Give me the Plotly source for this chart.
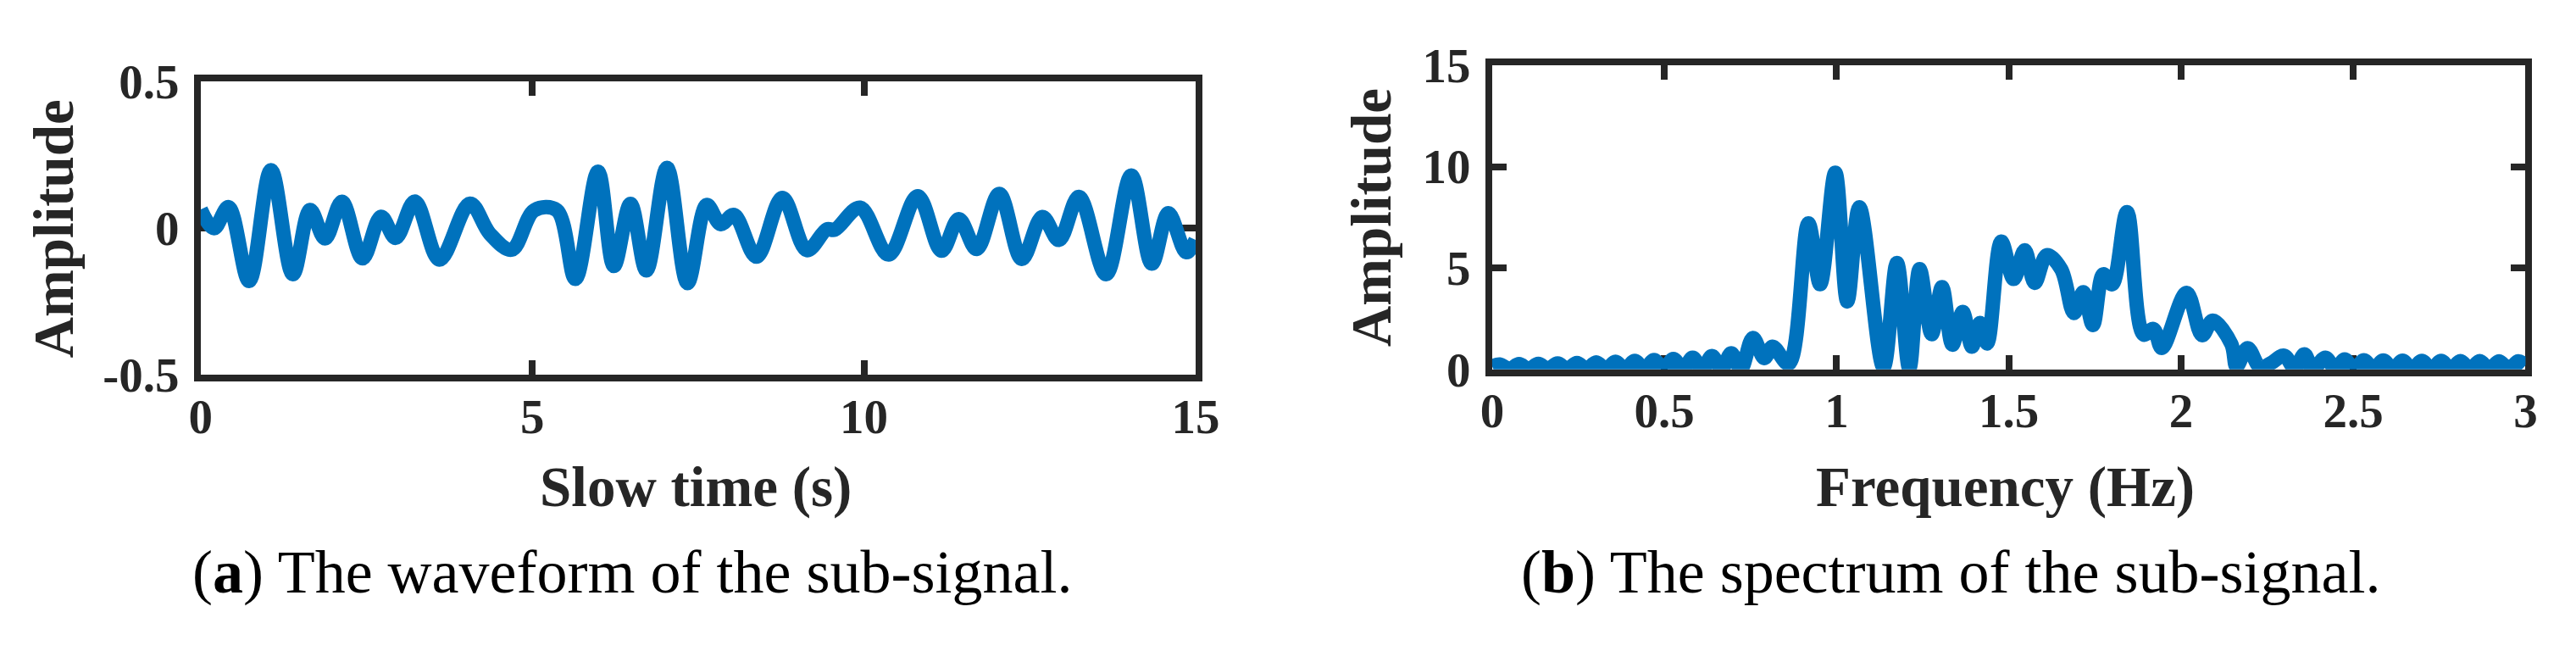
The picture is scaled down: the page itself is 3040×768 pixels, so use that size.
import plotly.graph_objects as go

# (a) waveform of the sub-signal
t_s = [0.0, 0.2, 0.42, 0.73, 1.06, 1.39, 1.65, 1.875, 2.13, 2.44,
       2.72, 2.94, 3.23, 3.6, 4.06, 4.36, 4.69, 5.03, 5.37, 5.65,
       5.99, 6.23, 6.48, 6.72, 7.03, 7.34, 7.63, 7.84, 8.04, 8.38,
       8.77, 9.14, 9.44, 9.56, 9.94, 10.37, 10.81, 11.17, 11.43, 11.70,
       12.04, 12.38, 12.69, 12.94, 13.24, 13.65, 14.03, 14.34, 14.59, 14.86,
       15.0]
amp_wave = [0.064, 0.0, 0.072, -0.18, 0.198, -0.157, 0.062, -0.035, 0.09, -0.103,
            0.039, -0.033, 0.091, -0.107, 0.084, -0.019, -0.073, 0.061, 0.061, -0.173,
            0.193, -0.129, 0.083, -0.144, 0.206, -0.187, 0.079, 0.014, 0.045, -0.097,
            0.103, -0.075, -0.004, -0.005, 0.07, -0.09, 0.109, -0.077, 0.031, -0.071,
            0.117, -0.105, 0.038, -0.04, 0.107, -0.157, 0.18, -0.121, 0.051, -0.082,
            -0.04]

# (b) spectrum of the sub-signal
freq_hz = [0.0, 0.022, 0.05, 0.078, 0.106, 0.134, 0.162, 0.19, 0.218, 0.246,
           0.274, 0.302, 0.33, 0.358, 0.386, 0.414, 0.442, 0.47, 0.498, 0.526,
           0.554, 0.582, 0.61, 0.638, 0.666, 0.694, 0.722, 0.757, 0.79, 0.814,
           0.861, 0.918, 0.952, 0.996, 1.031, 1.066, 1.136, 1.175, 1.211, 1.241,
           1.276, 1.306, 1.336, 1.366, 1.393, 1.416, 1.437, 1.478, 1.514, 1.546,
           1.575, 1.61, 1.652, 1.689, 1.716, 1.744, 1.774, 1.80, 1.843, 1.891,
           1.92, 1.944, 2.016, 2.061, 2.092, 2.146, 2.161, 2.193, 2.23, 2.26,
           2.299, 2.33, 2.358, 2.383, 2.419, 2.448, 2.475, 2.503, 2.531, 2.559,
           2.587, 2.615, 2.643, 2.671, 2.699, 2.727, 2.755, 2.783, 2.811, 2.839,
           2.867, 2.895, 2.923, 2.951, 2.979, 3.0]
amp_spec = [0.15, 0.24, 0.02, 0.26, 0.02, 0.28, 0.02, 0.30, 0.02, 0.32,
            0.02, 0.35, 0.02, 0.38, 0.02, 0.42, 0.02, 0.46, 0.02, 0.52,
            0.02, 0.58, 0.02, 0.66, 0.02, 0.80, 0.02, 1.55, 0.56, 1.12,
            0.28, 7.2, 4.2, 9.7, 3.35, 8.0, 0.1, 5.25, 0.05, 4.95,
            1.74, 4.06, 1.22, 2.83, 1.12, 2.29, 1.28, 6.3, 4.46, 5.88,
            4.27, 5.63, 4.94, 2.78, 3.81, 2.19, 4.69, 4.2, 7.76, 1.72,
            1.99, 1.06, 3.78, 1.69, 2.41, 1.25, 0.15, 1.05, 0.1, 0.3,
            0.68, 0.05, 0.74, 0.02, 0.58, 0.02, 0.49, 0.02, 0.45, 0.02,
            0.44, 0.02, 0.43, 0.02, 0.42, 0.02, 0.42, 0.02, 0.41, 0.02,
            0.41, 0.02, 0.40, 0.02, 0.40, 0.2]

wave_xticks = [0, 5, 10, 15]
wave_yticks = [-0.5, 0, 0.5]
wave_ylabels = ["-0.5", "0", "0.5"]
spec_xticks = [0, 0.5, 1, 1.5, 2, 2.5, 3]
spec_xlabels = ["0", "0.5", "1", "1.5", "2", "2.5", "3"]
spec_yticks = [0, 5, 10, 15]

W, H = 3040, 768
AX = "#262626"
BLUE = "#0072BD"
SERIF = "Liberation Serif"


def px_x(p):
    return p / W


def px_y(p):
    return 1 - p / H


fig = go.Figure()
fig.add_trace(go.Scatter(x=t_s, y=amp_wave, mode="lines", xaxis="x", yaxis="y",
                         line=dict(color=BLUE, width=17, shape="spline"),
                         cliponaxis=False, showlegend=False))
fig.add_trace(go.Scatter(x=freq_hz, y=amp_spec, mode="lines", xaxis="x2", yaxis="y2",
                         line=dict(color=BLUE, width=17, shape="spline"),
                         cliponaxis=False, showlegend=False))

axis_style = dict(showline=True, linewidth=8, linecolor=AX, mirror="ticks",
                  ticks="inside", ticklen=17, tickwidth=8, tickcolor=AX,
                  showgrid=False, zeroline=False, layer="below traces",
                  tickfont=dict(family=SERIF, size=57, color=AX, weight="bold"))

# plot areas sit 4 px inside the box lines (plotly draws lines outside)
fig.update_layout(
    width=W, height=H,
    margin=dict(l=0, r=0, t=0, b=0),
    paper_bgcolor="white", plot_bgcolor="white",
    xaxis=dict(domain=[px_x(226), px_x(1417)], range=[0, 15], anchor="y",
               tickvals=wave_xticks, ticklabelstandoff=-8, **axis_style),
    yaxis=dict(domain=[px_y(448), px_y(71)], range=[-0.5, 0.5], anchor="x",
               tickvals=wave_yticks, ticktext=wave_ylabels, ticklabelstandoff=6,
               **axis_style),
    xaxis2=dict(domain=[px_x(1772), px_x(3009)], range=[0, 3], anchor="y2",
                tickvals=spec_xticks, ticktext=spec_xlabels, ticklabelstandoff=-8,
                **axis_style),
    yaxis2=dict(domain=[px_y(441), px_y(50)], range=[0, 15], anchor="x2",
                tickvals=spec_yticks, ticklabelstandoff=6, **axis_style),
)

title_font = dict(family=SERIF, size=67, color=AX, weight="bold")
cap_font = dict(family=SERIF, size=72, color="black")

fig.add_annotation(x=px_x(819), y=px_y(592), xref="paper", yref="paper",
                   text="Slow time (s)", showarrow=False, font=title_font,
                   xanchor="center", yanchor="middle")
fig.add_annotation(x=px_x(2386), y=px_y(592), xref="paper", yref="paper",
                   text="Frequency (Hz)", showarrow=False, font=title_font,
                   xanchor="center", yanchor="middle")
fig.add_annotation(x=px_x(89), y=px_y(260), xref="paper", yref="paper",
                   text="Amplitude", textangle=-90, showarrow=False, font=title_font,
                   xanchor="right", yanchor="middle")
fig.add_annotation(x=px_x(1666), y=px_y(246), xref="paper", yref="paper",
                   text="Amplitude", textangle=-90, showarrow=False, font=title_font,
                   xanchor="right", yanchor="middle")

fig.add_annotation(x=px_x(742), y=px_y(702), xref="paper", yref="paper",
                   text="(<b>a</b>) The waveform of the sub-signal.", showarrow=False,
                   font=cap_font, xanchor="center", yanchor="middle")
fig.add_annotation(x=px_x(2321), y=px_y(702), xref="paper", yref="paper",
                   text="(<b>b</b>) The spectrum of the sub-signal.", showarrow=False,
                   font=cap_font, xanchor="center", yanchor="middle")

# drop the browser's default 8 px body margin so the figure sits at the page origin
fig.write_html("out.html", config={"displayModeBar": False},
               post_script="document.body.style.margin = '0';")
